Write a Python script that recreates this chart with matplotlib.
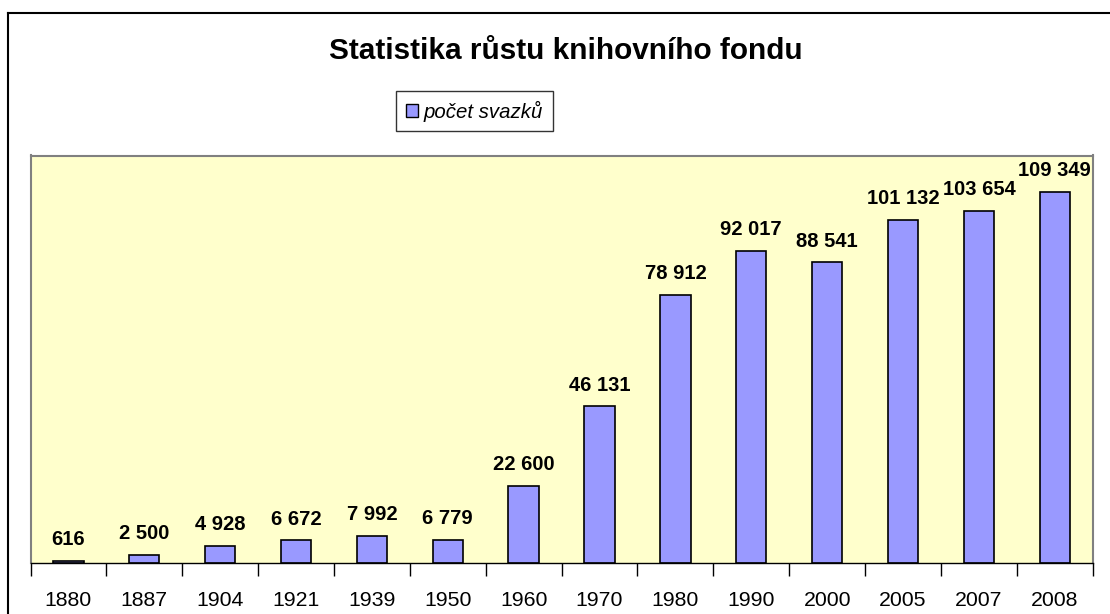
import matplotlib
matplotlib.use('Agg')
from matplotlib import pyplot as plt
from matplotlib.lines import Line2D
from matplotlib.patches import Rectangle

years  = ['1880', '1887', '1904', '1921', '1939', '1950', '1960',
          '1970', '1980', '1990', '2000', '2005', '2007', '2008']
svazky = [616, 2500, 4928, 6672, 7992, 6779, 22600,
          46131, 78912, 92017, 88541, 101132, 103654, 109349]
labels = ['616', '2 500', '4 928', '6 672', '7 992', '6 779', '22 600',
          '46 131', '78 912', '92 017', '88 541', '101 132', '103 654', '109 349']

plt.rcParams['font.family'] = ['Liberation Sans', 'DejaVu Sans']

W, H = 1110, 614
fig = plt.figure(figsize=(W / 100, H / 100), dpi=100)
fig.patch.set_facecolor('white')

# outer chart border (cut off on the right and bottom)
fig.add_artist(Line2D([8 / W, 1.0], [1 - 13 / H, 1 - 13 / H], color='black', lw=1.5))
fig.add_artist(Line2D([8 / W, 8 / W], [0.0, 1 - 13 / H], color='black', lw=1.5))

left, right, top, bottom = 30.5, 1092.7, 155.5, 563
ax = fig.add_axes([left / W, 1 - bottom / H, (right - left) / W, (bottom - top) / H])
ax.set_facecolor('#FFFFCC')

x = range(len(years))
bars = ax.bar(x, svazky, width=0.4, color='#9999FF', edgecolor='black', linewidth=1.2,
              label='počet svazků')

for i, v in enumerate(svazky):
    ax.annotate(labels[i], (i, v), xytext=(0, 8.5), textcoords='offset points',
                ha='center', va='bottom', fontsize=14.5, fontweight='bold')

ax.set_xlim(-0.5, len(years) - 0.5)
ax.set_ylim(0, 120000)
ax.set_yticks([])

ax.set_xticks([i - 0.5 for i in range(len(years) + 1)])
ax.set_xticklabels([])
ax.set_xticks(list(x), minor=True)
ax.set_xticklabels(years, minor=True, fontsize=15.3)
ax.tick_params(axis='x', which='major', length=9, width=1, direction='out', color='black')
ax.tick_params(axis='x', which='minor', length=0, pad=20.5)

for s in ['top', 'left', 'right']:
    ax.spines[s].set_color('#808080')
    ax.spines[s].set_linewidth(1.5)
ax.spines['bottom'].set_color('black')
ax.spines['bottom'].set_linewidth(1)

fig.text(566 / W, 1 - 51 / H, 'Statistika růstu knihovního fondu', ha='center', va='center',
         fontsize=21.4, fontweight='bold')

leg = fig.legend(handles=[Rectangle((0, 0), 1, 1, facecolor='#9999FF', edgecolor='black', lw=1)],
                 labels=['počet svazků'], loc='center', bbox_to_anchor=(474.5 / W, 1 - 111 / H),
                 frameon=True, fancybox=False, handlelength=0.6, handleheight=0.6,
                 handletextpad=0.3, borderpad=0.45, borderaxespad=0,
                 prop={'style': 'italic', 'size': 14.7})
leg.get_frame().set_edgecolor('black')
leg.get_frame().set_linewidth(1)

plt.savefig('out.png', dpi=100)
plt.close('all')
